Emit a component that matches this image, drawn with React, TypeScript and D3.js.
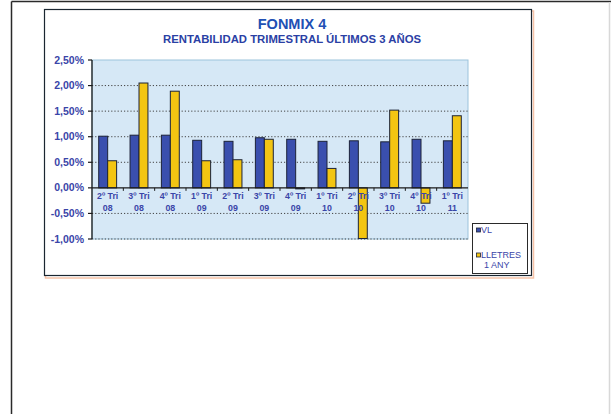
import { useMemo } from "react";
import * as d3 from "d3";

const periods = ["2º Tri 08", "3º Tri 08", "4º Tri 08", "1º Tri 09", "2º Tri 09", "3º Tri 09", "4º Tri 09", "1º Tri 10", "2º Tri 10", "3º Tri 10", "4º Tri 10", "1º Tri 11"];
const vlValues = [1.01, 1.03, 1.03, 0.93, 0.91, 0.98, 0.95, 0.91, 0.92, 0.9, 0.95, 0.92];
const lletresValues = [0.53, 2.05, 1.89, 0.53, 0.55, 0.95, -0.02, 0.38, -0.99, 1.52, -0.3, 1.41];
const yTicks = [2.5, 2.0, 1.5, 1.0, 0.5, 0, -0.5, -1.0];
const seriesNames = ["VL", "LLETRES 1 ANY"];

const FONT = "'Liberation Sans', Arial, sans-serif";
const BLUE = "#3a4fae";
const YELLOW = "#f3c512";
const LABEL = "#3a45a8";

export default function App() {
  const plot = { left: 92, right: 468, top: 60, bottom: 239 };

  const x = useMemo(
    () => d3.scaleBand<string>().domain(periods).range([plot.left, plot.right]).paddingInner(0).paddingOuter(0),
    []
  );
  const y = useMemo(() => d3.scaleLinear().domain([-1, 2.5]).range([plot.bottom, plot.top]), []);

  // two bars per group, gap width 150% of a bar
  const barW = x.bandwidth() / 3.5;
  const offset = barW * 0.75;
  const fmt = (v: number) => d3.format(".2f")(v).replace(".", ",").replace("\u2212", "-") + "%";

  const bar = (v: number, i: number, k: number, fill: string, key: string) => {
    const x0 = (x(periods[i]) as number) + offset + k * barW;
    const y0 = y(Math.max(0, v));
    const h = Math.max(Math.abs(y(v) - y(0)), 1);
    return <rect key={key} x={x0} y={y0} width={barW} height={h} fill={fill} stroke="#1c2338" strokeWidth={1} />;
  };

  return (
    <svg width={611} height={414} style={{ position: "absolute", left: 0, top: 0, background: "#fff" }} fontFamily={FONT}>
      {/* page frame */}
      <line x1={11.5} y1={1.5} x2={611} y2={1.5} stroke="#2a2a2a" strokeWidth={1.5} />
      <line x1={11.5} y1={1.5} x2={11.5} y2={414} stroke="#2a2a2a" strokeWidth={1.5} />
      <line x1={609.5} y1={2} x2={609.5} y2={414} stroke="#d8d8d8" strokeWidth={1.5} />

      {/* chart box */}
      <rect x={45.5} y={11} width={488} height={267} fill="none" stroke="#f6c3a8" strokeWidth={1.5} />
      <rect x={44.5} y={9.5} width={487} height={266} fill="#fff" stroke="#1a2630" strokeWidth={1.2} />

      <text x={292} y={29} textAnchor="middle" fontSize={14.5} fontWeight="bold" fill="#2150b4">FONMIX 4</text>
      <text x={292} y={43} textAnchor="middle" fontSize={10} fontWeight="bold" fill="#2a40a4" textLength={258} lengthAdjust="spacingAndGlyphs">
        RENTABILIDAD TRIMESTRAL ÚLTIMOS 3 AÑOS
      </text>

      {/* plot area */}
      <rect x={plot.left} y={plot.top} width={plot.right - plot.left} height={plot.bottom - plot.top} fill="#d6e8f6" stroke="#9cc3dc" strokeWidth={1} />

      {yTicks.filter(t => t !== 0 && t !== 2.5).map(t => (
        <line key={"g" + t} x1={plot.left} x2={plot.right} y1={y(t)} y2={y(t)} stroke="#444" strokeWidth={1} strokeDasharray="1.2,2" />
      ))}

      {vlValues.map((v, i) => bar(v, i, 0, BLUE, "vl" + i))}
      {lletresValues.map((v, i) => bar(v, i, 1, YELLOW, "ll" + i))}

      {/* y axis */}
      <line x1={plot.left} x2={plot.left} y1={plot.top} y2={plot.bottom} stroke="#1a1a1a" strokeWidth={1.3} />
      {yTicks.map(t => (
        <g key={"yt" + t}>
          <line x1={plot.left - 4} x2={plot.left} y1={y(t)} y2={y(t)} stroke="#1a1a1a" strokeWidth={1.2} />
          <text x={84} y={y(t) + 3.5} textAnchor="end" fontSize={10.5} fontWeight="bold" fill={LABEL}>{fmt(t)}</text>
        </g>
      ))}

      {/* x axis at zero */}
      <line x1={plot.left} x2={plot.right} y1={y(0)} y2={y(0)} stroke="#1a1a1a" strokeWidth={1.3} />
      {periods.map((p, i) => {
        const cx = (x(p) as number) + x.bandwidth() / 2;
        const [q, tri, yr] = p.split(" ");
        return (
          <g key={"xl" + p}>
            {i > 0 && <line x1={x(p) as number} x2={x(p) as number} y1={y(0)} y2={y(0) + 3} stroke="#1a1a1a" strokeWidth={1} />}
            <text x={cx} y={199} textAnchor="middle" fontSize={8.8} fontWeight="bold" fill={LABEL}>{q} {tri}</text>
            <text x={cx} y={211} textAnchor="middle" fontSize={8.8} fontWeight="bold" fill={LABEL}>{yr}</text>
          </g>
        );
      })}

      {/* legend */}
      <rect x={472.5} y={223.5} width={55} height={50} fill="#fff" stroke="#2a2a2a" strokeWidth={1} />
      <rect x={476.5} y={228} width={4} height={4} fill={BLUE} stroke="#1c2338" strokeWidth={0.8} />
      <text x={481} y={233} fontSize={9} fill={LABEL}>{seriesNames[0]}</text>
      <rect x={476.5} y={253} width={4} height={4} fill={YELLOW} stroke="#1c2338" strokeWidth={0.8} />
      <text x={481} y={258} fontSize={9} fill={LABEL}>{seriesNames[1].split(" ")[0]}</text>
      <text x={484} y={268} fontSize={9} fill={LABEL}>{seriesNames[1].split(" ").slice(1).join(" ")}</text>
    </svg>
  );
}
